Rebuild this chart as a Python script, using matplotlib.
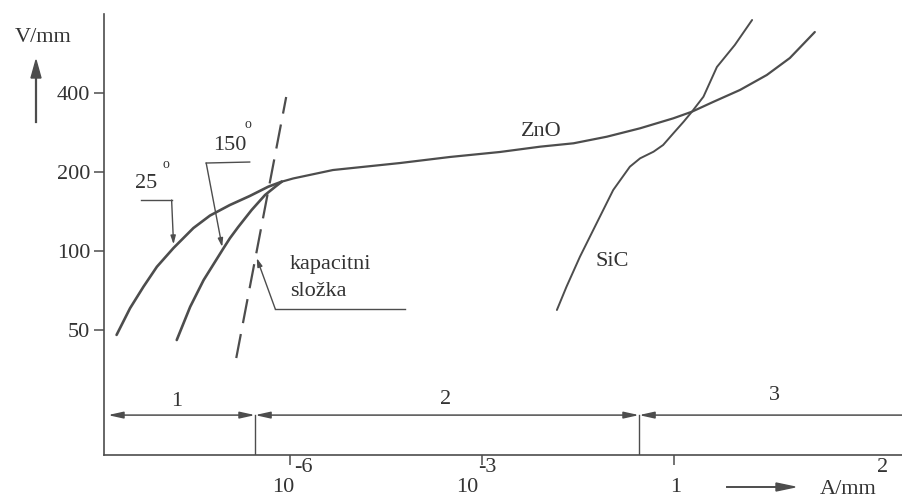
import numpy as np
import matplotlib.pyplot as plt

plt.rcParams['font.family'] = ['Liberation Serif', 'DejaVu Serif']

W, H = 902, 500
ink = '#4d4d4d'

# V-A characteristics, current in A/mm2, field in V/mm
i_25 = 10 ** np.array([-8.71, -8.50, -8.29, -8.08, -7.82, -7.51, -7.25, -6.94,
                       -6.63, -6.34, -6.13])
u_25 = [47.9, 60.5, 73.1, 87.1, 102.7, 122.3, 136.5, 149.7, 162.0, 175.8, 183.7]

i_150 = 10 ** np.array([-7.77, -7.56, -7.35, -7.04, -6.94, -6.81, -6.60, -6.39,
                        -6.23, -6.13])
u_150 = [45.8, 61.3, 77.5, 102.4, 111.8, 123.4, 143.3, 163.5, 175.8, 183.7]

i_zno = 10 ** np.array([-6.13, -5.95, -5.77, -5.33, -4.28, -3.50, -2.72, -2.09,
                        -1.57, -1.05, -0.53, -0.01, 0.28, 0.61, 1.03, 1.45,
                        1.81, 2.20])
u_zno = [183.7, 189.0, 193.1, 203.5, 216.4, 228.2, 238.4, 249.8, 257.3, 272.6,
         293.5, 320.4, 339.5, 369.7, 410.7, 468.5, 543.7, 683.0]

i_sic = 10 ** np.array([-1.83, -1.68, -1.47, -1.21, -0.95, -0.69, -0.53, -0.32,
                        -0.17, -0.01, 0.15, 0.28, 0.46, 0.67, 0.95, 1.22])
u_sic = [59.6, 73.1, 95.1, 127.5, 170.8, 209.5, 225.5, 239.0, 253.5, 280.9,
         310.9, 339.5, 387.2, 502.5, 609.6, 759.0]

# capacitive component (dashed)
i_cap = 10 ** np.array([-6.84, -6.06])
u_cap = [39.1, 386.2]

# leader lines for the labels
i_lead25 = 10 ** np.array([-8.33, -7.85, -7.82])
u_lead25 = [156.4, 156.4, 106.0]
i_lead150 = 10 ** np.array([-6.63, -7.31, -7.06])
u_lead150 = [218.3, 216.4, 103.6]
i_leadcap = 10 ** np.array([-4.20, -6.23, -6.52])
u_leadcap = [60.1, 60.1, 94.0]

# working regions 1, 2, 3
region_bounds = [1.43e-9, 2.84e-7, 0.284, 3650]
region_names = ['1', '2', '3']
u_region = 23.7

yticks = [50, 100, 200, 400]
xticks = [1e-6, 1e-3, 1]

fig = plt.figure(figsize=(W / 100, H / 100), dpi=100)
ax = fig.add_axes([104 / W, 45 / H, 798 / W, 441 / H])
ax.set_xscale('log')
ax.set_yscale('log', base=2)
ax.set_xlim(1.24e-9, 3650)
ax.set_ylim(16.7, 800)

ax.plot(i_25, u_25, color=ink, lw=1.9, solid_capstyle='round', solid_joinstyle='round')
ax.plot(i_150, u_150, color=ink, lw=1.9, solid_capstyle='round', solid_joinstyle='round')
ax.plot(i_zno, u_zno, color=ink, lw=1.6, solid_capstyle='round', solid_joinstyle='round')
ax.plot(i_sic, u_sic, color=ink, lw=1.4, solid_capstyle='round', solid_joinstyle='round')
ax.plot(i_cap, u_cap, color=ink, lw=1.6, dashes=(11, 5))

arrow_small = dict(arrowstyle='-|>,head_length=0.5,head_width=0.15',
                   color=ink, lw=1.0, shrinkA=0, shrinkB=0)
for xs, ys in [(i_lead25, u_lead25), (i_lead150, u_lead150), (i_leadcap, u_leadcap)]:
    ax.plot(xs[:2], ys[:2], color=ink, lw=1.0)
    ax.annotate('', xy=(xs[2], ys[2]), xytext=(xs[1], ys[1]), arrowprops=arrow_small)

# region bar with arrows and separators
for k, name in enumerate(region_names):
    a, b = region_bounds[k], region_bounds[k + 1]
    style = '<|-|>' if k < 2 else '-|>'
    ax.annotate('', xy=(a, u_region), xytext=(b, u_region),
                arrowprops=dict(arrowstyle=style + ',head_length=0.9,head_width=0.2',
                                color=ink, lw=1.1, shrinkA=0, shrinkB=0))
for b in region_bounds[1:3]:
    ax.plot([b, b], [16.7, u_region], color=ink, lw=1.0)

ax.spines[['top', 'right']].set_visible(False)
for s in ['left', 'bottom']:
    ax.spines[s].set_color(ink)
    ax.spines[s].set_linewidth(1.2)

ax.set_yticks(yticks)
ax.set_yticklabels([str(v) for v in yticks])
ax.yaxis.set_minor_locator(plt.NullLocator())
ax.set_xticks(xticks)
ax.set_xticklabels([])
ax.xaxis.set_minor_locator(plt.NullLocator())
ax.tick_params(axis='both', colors=ink, length=7, width=1.1, direction='out',
               labelsize=16, pad=3)
ax.tick_params(axis='y', labelcolor='#333333')


def ftext(px, py, s, size=16, ha='center'):
    fig.text(px / W, 1 - py / H, s, fontsize=size, ha=ha, va='center', color='#333333')


# x tick labels with raised exponents
for px, exp in [(283, '-6'), (467, '-3')]:
    ftext(px, 488, '10')
    ftext(px + 20, 468, exp)
ftext(676, 488, '1')

ftext(43, 38, 'V/mm')
ftext(848, 489, 'A/mm')
ftext(883, 468, '2')
fig.add_artist(plt.Line2D([36 / W, 36 / W], [1 - 122 / H, 1 - 75 / H], color=ink, lw=1.6))
fig.patches.append(plt.Polygon([[31 / W, 1 - 78 / H], [41 / W, 1 - 78 / H], [36 / W, 1 - 60 / H]],
                               closed=True, color=ink, transform=fig.transFigure))
fig.add_artist(plt.Line2D([727 / W, 780 / W], [1 - 487 / H, 1 - 487 / H], color=ink, lw=1.4))
fig.patches.append(plt.Polygon([[776 / W, 1 - 483 / H], [776 / W, 1 - 491 / H], [795 / W, 1 - 487 / H]],
                               closed=True, color=ink, transform=fig.transFigure))

ftext(146, 184, '25')
ftext(166, 164, 'o', size=10)
ftext(230, 146, '150')
ftext(248, 124, 'o', size=10)
ftext(541, 131, 'ZnO')
ftext(612, 262, 'SiC')
ftext(290, 264, 'kapacitni', ha='left')
ftext(290, 291, 'složka', ha='left')

ftext(177, 401, '1')
ftext(446, 400, '2')
ftext(774, 395, '3')

fig.savefig('out.png', dpi=100)
